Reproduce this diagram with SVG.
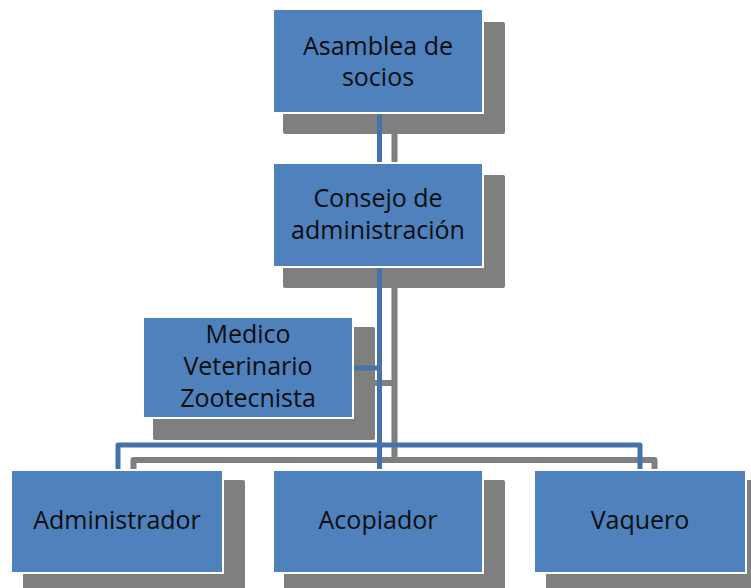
<svg xmlns="http://www.w3.org/2000/svg" width="751" height="588" viewBox="0 0 751 588">
<style>
.sh{fill:#7f7f7f}
.box{fill:#4f81bd;stroke:#ffffff;stroke-width:2}
.gl{fill:none;stroke:#7f7f7f;stroke-width:6;stroke-linejoin:round}
.bl{fill:none;stroke:#4672ac;stroke-width:5;stroke-linejoin:round}
text{font-family:"Open Sans","Liberation Sans",sans-serif;font-size:25px;fill:#0d0d0d;text-anchor:middle}
</style>
<rect width="751" height="588" fill="#ffffff"/>
<g id="shadows">
<rect class="sh" x="283" y="22" width="222" height="112" rx="2"/>
<rect class="sh" x="283" y="175" width="222" height="113" rx="2"/>
<rect class="sh" x="153" y="327" width="222" height="113" rx="2"/>
<rect class="sh" x="23" y="480" width="222" height="112" rx="2"/>
<rect class="sh" x="284" y="480" width="221" height="112" rx="2"/>
<rect class="sh" x="546" y="480" width="222" height="112" rx="2"/>
</g>
<g id="connectors">
<path class="gl" d="M394.5,130 V175"/>
<path class="gl" d="M394.5,285 V463"/>
<path class="gl" d="M372,383 H394.5"/>
<path class="gl" d="M133.5,472 V460 H654.5 V472"/>
<path class="bl" d="M379.5,112 V164"/>
<path class="bl" d="M379.5,266 V470"/>
<path class="bl" d="M352,368 H379.5"/>
<path class="bl" d="M118,470 V445 H640 V470"/>
</g>
<g id="asamblea">
<rect class="box" x="273" y="9" width="210" height="104"/>
<text x="378" y="55">Asamblea de</text>
<text x="378" y="86">socios</text>
</g>
<g id="consejo">
<rect class="box" x="273" y="163" width="210" height="104"/>
<text x="378" y="207">Consejo de</text>
<text x="378" y="239">administración</text>
</g>
<g id="medico">
<rect class="box" x="143" y="317" width="210" height="101"/>
<text x="248" y="343">Medico</text>
<text x="248" y="375">Veterinario</text>
<text x="248" y="407">Zootecnista</text>
</g>
<g id="administrador">
<rect class="box" x="11" y="470" width="212" height="103"/>
<text x="117" y="529">Administrador</text>
</g>
<g id="acopiador">
<rect class="box" x="273" y="470" width="210" height="103"/>
<text x="378" y="529">Acopiador</text>
</g>
<g id="vaquero">
<rect class="box" x="534" y="470" width="212" height="103"/>
<text x="640" y="529">Vaquero</text>
</g>
</svg>
